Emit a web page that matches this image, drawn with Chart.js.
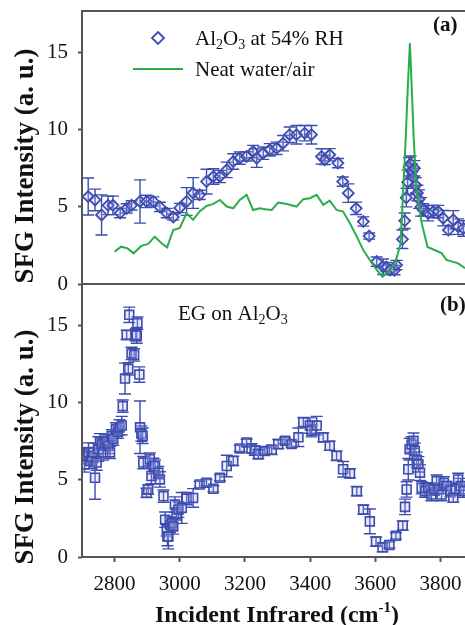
<!DOCTYPE html>
<html>
<head>
<meta charset="utf-8">
<script src="https://cdn.jsdelivr.net/npm/chart.js@4.4.0/dist/chart.umd.min.js"></script>
<style>
  body { margin: 0; background: #fff; }
  #wrap { position: relative; width: 465px; height: 625px; overflow: hidden; }
  canvas { position: absolute; left: 0; }
  #topChart { top: 0; }
  #bottomChart { top: 280px; }
</style>
</head>
<body>
<div id="wrap">
  <canvas id="topChart" width="465" height="290" style="width:465px;height:290px"></canvas>
  <canvas id="bottomChart" width="465" height="345" style="width:465px;height:345px"></canvas>
</div>
<script>
// (a) Al2O3 at 54% RH
const aWn  = [2719, 2740, 2760, 2780, 2795, 2817, 2837, 2852, 2878, 2898, 2919, 2939, 2960, 2980, 3000, 3021, 3041, 3061, 3082, 3103, 3123, 3144, 3164, 3184, 3205, 3225, 3236, 3256, 3276, 3297, 3317, 3337, 3358, 3383, 3404, 3435, 3445, 3460, 3485, 3500, 3517, 3541, 3563, 3581, 3604, 3624, 3634, 3645, 3659, 3665, 3683, 3690, 3695, 3699, 3703, 3708, 3712, 3716, 3720, 3724, 3729, 3734, 3740, 3747, 3762, 3778, 3793, 3808, 3824, 3839, 3854, 3870];
const aVal = [5.67, 5.45, 4.48, 5.1, 5.1, 4.6, 4.9, 5.1, 5.35, 5.35, 5.35, 5.0, 4.6, 4.34, 4.93, 5.35, 5.9, 5.78, 6.64, 6.97, 6.97, 7.4, 7.94, 8.16, 8.27, 8.59, 8.16, 8.48, 8.7, 8.8, 9.13, 9.68, 9.68, 9.78, 9.68, 8.27, 8.05, 8.38, 7.84, 6.64, 5.89, 4.91, 4.05, 3.11, 1.45, 1.12, 1.1, 0.91, 0.9, 1.23, 2.9, 4.1, 5.6, 6.6, 7.6, 7.8, 7.3, 6.9, 7.5, 6.4, 5.9, 5.5, 5.0, 4.8, 4.59, 4.7, 4.7, 4.27, 3.5, 4.16, 3.72, 3.6];
const aErr = [1.2, 0.7, 1.3, 0.6, 0.6, 0.3, 0.3, 0.3, 1.4, 0.4, 0.3, 0.3, 0.3, 0.2, 0.3, 0.9, 1.0, 0.3, 0.8, 0.5, 0.4, 0.5, 0.5, 0.4, 0.3, 0.4, 0.6, 0.4, 0.4, 0.4, 0.5, 0.5, 0.6, 0.5, 0.6, 0.5, 0.3, 0.4, 0.3, 0.3, 0.6, 0.4, 0.3, 0.2, 0.3, 0.5, 0.3, 0.3, 0.3, 0.3, 0.6, 0.5, 0.6, 0.8, 0.6, 0.5, 0.5, 0.6, 0.5, 0.5, 0.5, 0.6, 0.6, 0.4, 0.5, 0.4, 0.4, 0.5, 0.3, 0.6, 0.5, 0.5];

// (a) neat water/air
const wWn  = [2800, 2820, 2840, 2858, 2882, 2903, 2923, 2944, 2961, 2980, 3000, 3021, 3041, 3061, 3082, 3103, 3123, 3144, 3164, 3184, 3205, 3225, 3246, 3262, 3282, 3302, 3328, 3358, 3379, 3399, 3420, 3440, 3460, 3481, 3501, 3522, 3543, 3563, 3583, 3604, 3622, 3645, 3662, 3677, 3683, 3693, 3700, 3706, 3712, 3718, 3726, 3742, 3760, 3803, 3818, 3854, 3875];
const wVal = [2.1, 2.42, 2.31, 1.99, 2.47, 2.6, 3.07, 2.64, 2.38, 3.5, 3.63, 4.59, 4.16, 4.7, 5.06, 5.19, 5.45, 5.02, 4.91, 5.45, 5.78, 4.8, 4.91, 4.85, 4.8, 5.28, 5.19, 5.02, 5.5, 5.56, 5.78, 5.13, 5.41, 4.8, 4.7, 3.94, 3.07, 2.2, 1.56, 0.91, 0.47, 0.91, 1.45, 2.6, 5.0, 9.4, 13.0, 15.6, 12.5, 9.3, 6.1, 3.96, 2.4, 2.0, 1.56, 1.34, 1.02];

// (b) EG on Al2O3
const bWn  = [2704, 2708, 2714, 2720, 2725, 2730, 2735, 2740, 2745, 2750, 2755, 2760, 2765, 2770, 2776, 2781, 2786, 2791, 2796, 2804, 2810, 2815, 2822, 2825, 2832, 2837, 2842, 2845, 2852, 2860, 2865, 2868, 2870, 2876, 2878, 2882, 2886, 2888, 2898, 2903, 2908, 2913, 2919, 2924, 2934, 2939, 2950, 2955, 2960, 2962, 2965, 2970, 2975, 2980, 2985, 2990, 2996, 3006, 3021, 3041, 3061, 3082, 3103, 3123, 3144, 3164, 3184, 3205, 3220, 3230, 3241, 3261, 3282, 3302, 3323, 3343, 3364, 3379, 3399, 3404, 3420, 3440, 3460, 3481, 3501, 3522, 3543, 3563, 3583, 3602, 3622, 3643, 3663, 3684, 3691, 3696, 3701, 3705, 3711, 3717, 3721, 3727, 3732, 3737, 3742, 3752, 3762, 3772, 3780, 3788, 3795, 3803, 3810, 3818, 3830, 3839, 3847, 3854, 3862, 3870];
const bVal = [6.67, 6.0, 6.55, 6.8, 6.23, 6.5, 6.78, 5.14, 6.12, 7.0, 7.5, 7.3, 6.78, 7.4, 7.54, 7.2, 6.78, 7.86, 7.65, 8.3, 8.1, 8.4, 8.52, 9.78, 11.57, 14.4, 12.2, 15.7, 13.2, 13.1, 14.4, 14.36, 15.16, 11.83, 8.41, 8.0, 7.86, 6.12, 4.16, 4.38, 6.34, 5.25, 5.9, 5.9, 5.47, 5.03, 3.94, 2.42, 1.76, 1.33, 1.33, 2.09, 2.2, 1.98, 3.4, 2.8, 3.07, 3.18, 3.79, 3.83, 4.7, 4.82, 4.42, 5.14, 5.9, 6.23, 7.04, 7.43, 7.04, 6.9, 6.67, 6.88, 6.95, 7.32, 7.54, 7.32, 7.76, 8.74, 8.52, 8.19, 8.52, 7.76, 7.21, 6.56, 5.69, 5.42, 4.27, 3.07, 2.31, 1.0, 0.63, 0.78, 1.37, 2.03, 3.25, 4.38, 5.69, 6.99, 7.3, 7.54, 6.88, 6.3, 6.01, 5.47, 4.49, 4.27, 4.5, 4.05, 4.4, 4.92, 4.4, 4.05, 4.8, 4.6, 4.3, 3.84, 4.4, 5.03, 4.6, 4.27];
const bErr = [0.4, 0.5, 0.5, 0.6, 0.5, 0.4, 0.6, 1.4, 0.5, 0.8, 0.5, 0.4, 0.5, 0.4, 0.4, 0.5, 0.4, 0.4, 0.4, 0.4, 0.4, 0.5, 0.6, 0.4, 1.0, 0.3, 0.4, 0.5, 0.4, 0.4, 0.4, 0.5, 0.4, 0.5, 1.7, 0.5, 0.5, 0.4, 0.3, 0.3, 0.4, 0.5, 0.5, 0.4, 0.4, 0.5, 0.4, 0.5, 0.4, 0.6, 0.8, 0.5, 0.4, 0.5, 0.5, 0.4, 0.5, 1.0, 0.4, 0.6, 0.2, 0.2, 0.2, 0.2, 0.7, 0.3, 0.2, 0.2, 0.3, 0.3, 0.3, 0.2, 0.3, 0.3, 0.2, 0.2, 0.6, 0.3, 0.5, 0.4, 0.6, 0.3, 0.3, 0.3, 0.5, 0.3, 0.3, 0.3, 0.8, 0.3, 0.3, 0.2, 0.2, 0.3, 0.5, 0.5, 0.7, 0.7, 0.5, 0.5, 0.5, 0.5, 0.5, 0.5, 0.4, 0.4, 0.3, 0.4, 0.4, 0.4, 0.3, 0.4, 0.4, 0.3, 0.4, 0.3, 0.4, 0.4, 0.5, 0.4];

const xTicks = [2800, 3000, 3200, 3400, 3600, 3800];
const yTicks = [0, 5, 10, 15];

const BLUE = '#3d4cae';
const GREEN = '#27ad4a';
const FRAME = '#555555';
const SERIF = '"Liberation Serif", "Times New Roman", serif';

function toPoints(xs, ys) {
  return xs.map((x, i) => ({ x: x, y: ys[i] }));
}

// Error bars, drawn under the markers
const errorBars = {
  id: 'errorBars',
  beforeDatasetsDraw(chart) {
    const ctx = chart.ctx;
    const yScale = chart.scales.y;
    const area = chart.chartArea;
    ctx.save();
    ctx.beginPath();
    ctx.rect(area.left, area.top, area.right - area.left, area.bottom - area.top);
    ctx.clip();
    ctx.strokeStyle = BLUE;
    ctx.lineWidth = 1.4;
    chart.data.datasets.forEach((ds, i) => {
      if (!ds.errors) return;
      const meta = chart.getDatasetMeta(i);
      meta.data.forEach((el, j) => {
        const v = ds.data[j].y;
        const e = ds.errors[j];
        const y1 = yScale.getPixelForValue(v + e);
        const y2 = yScale.getPixelForValue(v - e);
        ctx.beginPath();
        ctx.moveTo(el.x, y1); ctx.lineTo(el.x, y2);
        ctx.moveTo(el.x - 6, y1); ctx.lineTo(el.x + 6, y1);
        ctx.moveTo(el.x - 6, y2); ctx.lineTo(el.x + 6, y2);
        ctx.stroke();
      });
    });
    ctx.restore();
  }
};

// Frame: top, left and bottom edges of the plot area
const frame = {
  id: 'frame',
  afterDatasetsDraw(chart) {
    const ctx = chart.ctx;
    const a = chart.chartArea;
    ctx.save();
    ctx.strokeStyle = FRAME;
    ctx.lineWidth = 2;
    ctx.beginPath();
    ctx.moveTo(chart.width, a.top); ctx.lineTo(a.left, a.top);
    ctx.lineTo(a.left, a.bottom); ctx.lineTo(chart.width, a.bottom);
    ctx.stroke();
    ctx.restore();
  }
};

// draw a run of text pieces: [text, sizePx, baselineShift]
function drawRuns(ctx, x, y, runs, weight) {
  runs.forEach(r => {
    ctx.font = (weight || '') + ' ' + r[1] + 'px ' + SERIF;
    ctx.fillText(r[0], x, y + (r[2] || 0));
    x += ctx.measureText(r[0]).width;
  });
  return x;
}

function runsWidth(ctx, runs, weight) {
  let w = 0;
  runs.forEach(r => {
    ctx.font = (weight || '') + ' ' + r[1] + 'px ' + SERIF;
    w += ctx.measureText(r[0]).width;
  });
  return w;
}

function yTitle(ctx, cy) {
  ctx.save();
  ctx.translate(33, cy);
  ctx.rotate(-Math.PI / 2);
  ctx.fillStyle = '#111';
  ctx.font = 'bold 27px ' + SERIF;
  ctx.textAlign = 'center';
  ctx.textBaseline = 'alphabetic';
  ctx.fillText('SFG Intensity (a. u.)', 0, 0);
  ctx.restore();
}

const topText = {
  id: 'topText',
  afterDraw(chart) {
    const ctx = chart.ctx;
    ctx.save();
    ctx.fillStyle = '#111';
    ctx.textBaseline = 'alphabetic';
    // legend
    ctx.strokeStyle = BLUE;
    ctx.lineWidth = 1.8;
    ctx.beginPath();
    ctx.moveTo(158, 32); ctx.lineTo(164, 38); ctx.lineTo(158, 44); ctx.lineTo(152, 38);
    ctx.closePath();
    ctx.stroke();
    drawRuns(ctx, 195, 45, [['Al', 21], ['2', 14, 4], ['O', 21], ['3', 14, 4], [' at 54% RH', 21]]);
    ctx.strokeStyle = GREEN;
    ctx.lineWidth = 2;
    ctx.beginPath();
    ctx.moveTo(133, 69); ctx.lineTo(183, 69);
    ctx.stroke();
    drawRuns(ctx, 195, 76, [['Neat water/air', 21]]);
    drawRuns(ctx, 433, 31, [['(a)', 21]], 'bold');
    ctx.restore();
    yTitle(ctx, 166);
  }
};

const bottomText = {
  id: 'bottomText',
  afterDraw(chart) {
    const ctx = chart.ctx;
    ctx.save();
    ctx.fillStyle = '#111';
    ctx.textBaseline = 'alphabetic';
    drawRuns(ctx, 178, 40, [['EG on Al', 21], ['2', 14, 4], ['O', 21], ['3', 14, 4]]);
    drawRuns(ctx, 440, 31, [['(b)', 21]], 'bold');
    const xt = [['Incident Infrared (cm', 24], ['-1', 15, -10], [')', 24]];
    const w = runsWidth(ctx, xt, 'bold');
    drawRuns(ctx, 277 - w / 2, 342, xt, 'bold');
    ctx.restore();
    yTitle(ctx, 167);
  }
};

function yAxis() {
  return {
    min: 0,
    max: 17.7,
    afterBuildTicks: s => { s.ticks = yTicks.map(v => ({ value: v })); },
    afterFit: s => { s.width = 82; s.paddingTop = 0; s.paddingBottom = 0; },
    border: { display: false },
    grid: { drawOnChartArea: false, drawTicks: true, tickLength: 4, tickColor: FRAME, tickWidth: 2 },
    ticks: { padding: 10, color: '#111', font: { family: SERIF, size: 21 }, callback: v => String(v) }
  };
}

function xRange() {
  return { type: 'linear', min: 2700, max: 3875 };
}

new Chart(document.getElementById('topChart'), {
  type: 'scatter',
  data: {
    datasets: [
      {
        type: 'line',
        data: toPoints(wWn, wVal),
        borderColor: GREEN,
        borderWidth: 2,
        pointRadius: 0,
        tension: 0,
        fill: false
      },
      {
        data: toPoints(aWn, aVal),
        errors: aErr,
        pointStyle: 'rectRot',
        pointRadius: 5.5,
        borderWidth: 1.8,
        borderColor: BLUE,
        backgroundColor: 'rgba(170,180,235,0.25)'
      }
    ]
  },
  options: {
    responsive: false,
    animation: false,
    layout: { autoPadding: false, padding: { top: 11, bottom: 6, left: 0, right: 0 } },
    plugins: { legend: { display: false }, tooltip: { enabled: false } },
    scales: {
      x: Object.assign(xRange(), { display: false }),
      y: yAxis()
    }
  },
  plugins: [errorBars, frame, topText]
});

new Chart(document.getElementById('bottomChart'), {
  type: 'scatter',
  data: {
    datasets: [
      {
        data: toPoints(bWn, bVal),
        errors: bErr,
        pointStyle: 'rect',
        pointRadius: 6.3,
        borderWidth: 1.6,
        borderColor: BLUE,
        backgroundColor: 'rgba(170,180,235,0.25)'
      }
    ]
  },
  options: {
    responsive: false,
    animation: false,
    layout: { autoPadding: false, padding: { top: 4, bottom: 0, left: 0, right: 0 } },
    plugins: { legend: { display: false }, tooltip: { enabled: false } },
    scales: {
      x: Object.assign(xRange(), {
        afterBuildTicks: s => { s.ticks = xTicks.map(v => ({ value: v })); },
        afterFit: s => { s.height = 68; s.paddingLeft = 0; s.paddingRight = 0; },
        border: { display: false },
        grid: { drawOnChartArea: false, drawTicks: true, tickLength: 5, tickColor: FRAME, tickWidth: 2 },
        ticks: { padding: 10, maxRotation: 0, color: '#111', font: { family: SERIF, size: 21 }, callback: v => String(v) }
      }),
      y: yAxis()
    }
  },
  plugins: [errorBars, frame, bottomText]
});
</script>
</body>
</html>
